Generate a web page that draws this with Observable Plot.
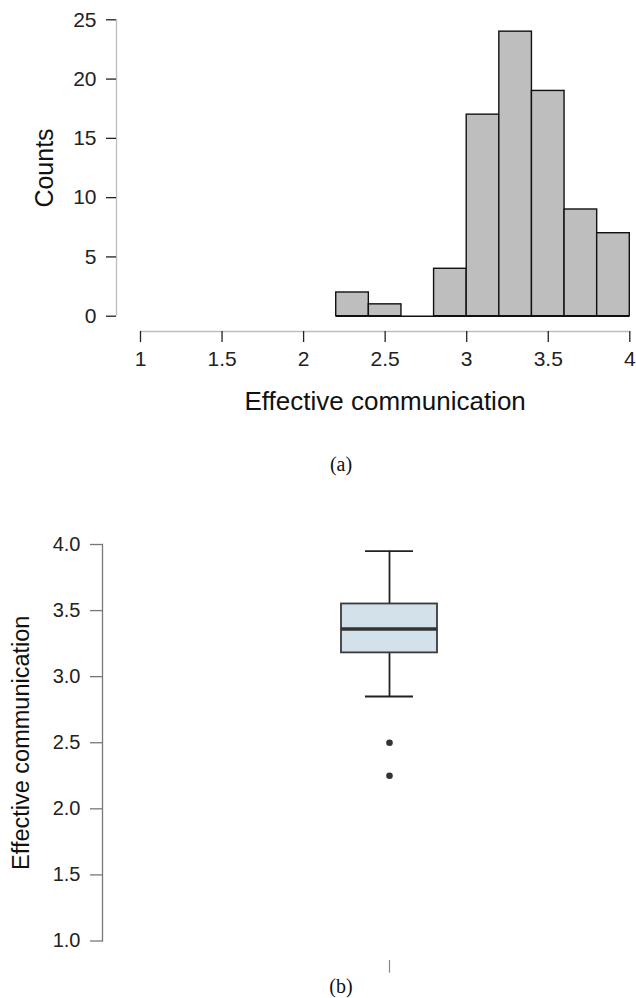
<!DOCTYPE html>
<html>
<head>
<meta charset="utf-8">
<script src="https://cdn.jsdelivr.net/npm/d3@7"></script>
<script src="https://cdn.jsdelivr.net/npm/@observablehq/plot@0.6"></script>
<style>
  html, body { margin: 0; padding: 0; background: #fff; }
  #page { position: relative; width: 636px; height: 998px; overflow: hidden; }
  #p1 { position: absolute; left: 0; top: 0; }
  #p2 { position: absolute; left: 0; top: 480px; }
  .cap { position: absolute; font-family: "Liberation Serif", "Times New Roman", serif; font-size: 20px; line-height: 20px; color: #111; transform: translateX(-50%); white-space: nowrap; }
</style>
</head>
<body>
<div id="page">
  <div id="p1"></div>
  <div class="cap" style="left:341px; top:454px;">(a)</div>
  <div id="p2"></div>
  <div class="cap" style="left:341px; top:976px;">(b)</div>
</div>
<script>
// ---- Histogram data (a) ----
const binStart = [2.2, 2.4, 2.6, 2.8, 3.0, 3.2, 3.4, 3.6, 3.8];
const binEnd   = [2.4, 2.6, 2.8, 3.0, 3.2, 3.4, 3.6, 3.8, 4.0];
const counts   = [2, 1, 0, 4, 17, 24, 19, 9, 7];
const histXTicks = [1, 1.5, 2, 2.5, 3, 3.5, 4];
const histYTicks = [0, 5, 10, 15, 20, 25];
const histXLabel = "Effective communication";
const histYLabel = "Counts";

// ---- Box plot data (b) ----
const boxGroup = ["Effective communication"];
const whiskerLow = [2.85];
const quart1 = [3.18];
const medians = [3.36];
const quart3 = [3.55];
const whiskerHigh = [3.95];
const outliers = [2.5, 2.25];
const boxYTicks = [1.0, 1.5, 2.0, 2.5, 3.0, 3.5, 4.0];
const boxYLabel = "Effective communication";

const FONT = "'Liberation Sans', Arial, Helvetica, sans-serif";

const hist = binStart.map((s, i) => ({x1: s, x2: binEnd[i], count: counts[i]}));

const p1 = Plot.plot({
  width: 636,
  height: 430,
  marginTop: 19,
  marginLeft: 116,
  marginRight: 7,
  marginBottom: 99,
  style: {fontFamily: FONT, background: "transparent", color: "#222"},
  x: {domain: [histXTicks[0], histXTicks[histXTicks.length - 1]], range: [140, 629.3]},
  y: {domain: [histYTicks[0], histYTicks[histYTicks.length - 1]], range: [315.7, 19.3]},
  marks: [
    Plot.rect(hist, {x1: "x1", x2: "x2", y1: 0, y2: "count", fill: "#bebebe", stroke: "#111", strokeWidth: 1.4}),
    Plot.ruleY([0], {x1: binStart[0], x2: binEnd[binEnd.length - 1], stroke: "#111", strokeWidth: 1.4}),
    Plot.ruleX([histXTicks[0]], {y1: histYTicks[0], y2: histYTicks[histYTicks.length - 1], dx: -24, stroke: "#bdbdbd", strokeWidth: 1.3}),
    Plot.ruleY([histYTicks[0]], {x1: histXTicks[0], x2: histXTicks[histXTicks.length - 1], dy: 15.3, stroke: "#bdbdbd", strokeWidth: 1.3}),
    Plot.axisY({ticks: histYTicks, tickSize: 10, tickPadding: 10, fontSize: 21, stroke: "#222", fill: "#222", strokeWidth: 1.3, label: null}),
    Plot.axisX({ticks: histXTicks, tickSize: 11, tickPadding: 9, fontSize: 21, stroke: "#222", fill: "#222", strokeWidth: 1.3, label: null, tickFormat: d => String(d)}),
    Plot.text([histYLabel], {
      y: () => (histYTicks[0] + histYTicks[histYTicks.length - 1]) / 2,
      frameAnchor: "left", dx: -72, rotate: -90, fontSize: 25, fill: "#111", textAnchor: "middle", lineAnchor: "middle"
    }),
    Plot.text([histXLabel], {
      x: () => (histXTicks[0] + histXTicks[histXTicks.length - 1]) / 2,
      frameAnchor: "bottom", dy: 59.7, lineAnchor: "top", fontSize: 26, fill: "#111"
    })
  ]
});
document.getElementById("p1").appendChild(p1);

const box = boxGroup.map((g, i) => ({g, lo: whiskerLow[i], q1: quart1[i], med: medians[i], q3: quart3[i], hi: whiskerHigh[i]}));

const p2 = Plot.plot({
  width: 636,
  height: 518,
  marginTop: 64,
  marginBottom: 38,
  marginLeft: 102,
  marginRight: 20,
  style: {fontFamily: FONT, background: "transparent", color: "#222"},
  x: {type: "band", domain: boxGroup, range: [341, 437.3], padding: 0},
  y: {domain: [boxYTicks[0], boxYTicks[boxYTicks.length - 1]], range: [460.5, 64]},
  marks: [
    Plot.frame({anchor: "left", insetBottom: 19.5, stroke: "#777", strokeWidth: 1.3}),
    Plot.axisY({ticks: boxYTicks, tickFormat: d => d.toFixed(1), tickSize: 12, tickPadding: 10, fontSize: 20, stroke: "#777", fill: "#222", strokeWidth: 1.3, label: null}),
    Plot.axisX({tickSize: 12.7, tickFormat: () => "", stroke: "#888", strokeWidth: 1.2, label: null}),
    Plot.ruleX(box, {x: "g", y1: "q3", y2: "hi", stroke: "#222", strokeWidth: 1.8}),
    Plot.ruleX(box, {x: "g", y1: "lo", y2: "q1", stroke: "#222", strokeWidth: 1.8}),
    Plot.tickY(box, {x: "g", y: "hi", insetLeft: 24, insetRight: 24, stroke: "#222", strokeWidth: 1.8}),
    Plot.tickY(box, {x: "g", y: "lo", insetLeft: 24, insetRight: 24, stroke: "#222", strokeWidth: 1.8}),
    Plot.barY(box, {x: "g", y1: "q1", y2: "q3", fill: "#d2e1ea", stroke: "#3a3a3a", strokeWidth: 1.8}),
    Plot.tickY(box, {x: "g", y: "med", stroke: "#333", strokeWidth: 3.5}),
    Plot.dot(outliers, {x: () => boxGroup[0], y: d => d, r: 3.3, fill: "#333", stroke: null}),
    Plot.text([boxYLabel], {
      y: () => (boxYTicks[0] + boxYTicks[boxYTicks.length - 1]) / 2,
      frameAnchor: "left", dx: -81, rotate: -90, fontSize: 23.5, fill: "#111", textAnchor: "middle", lineAnchor: "middle"
    })
  ]
});
document.getElementById("p2").appendChild(p2);
</script>
</body>
</html>
